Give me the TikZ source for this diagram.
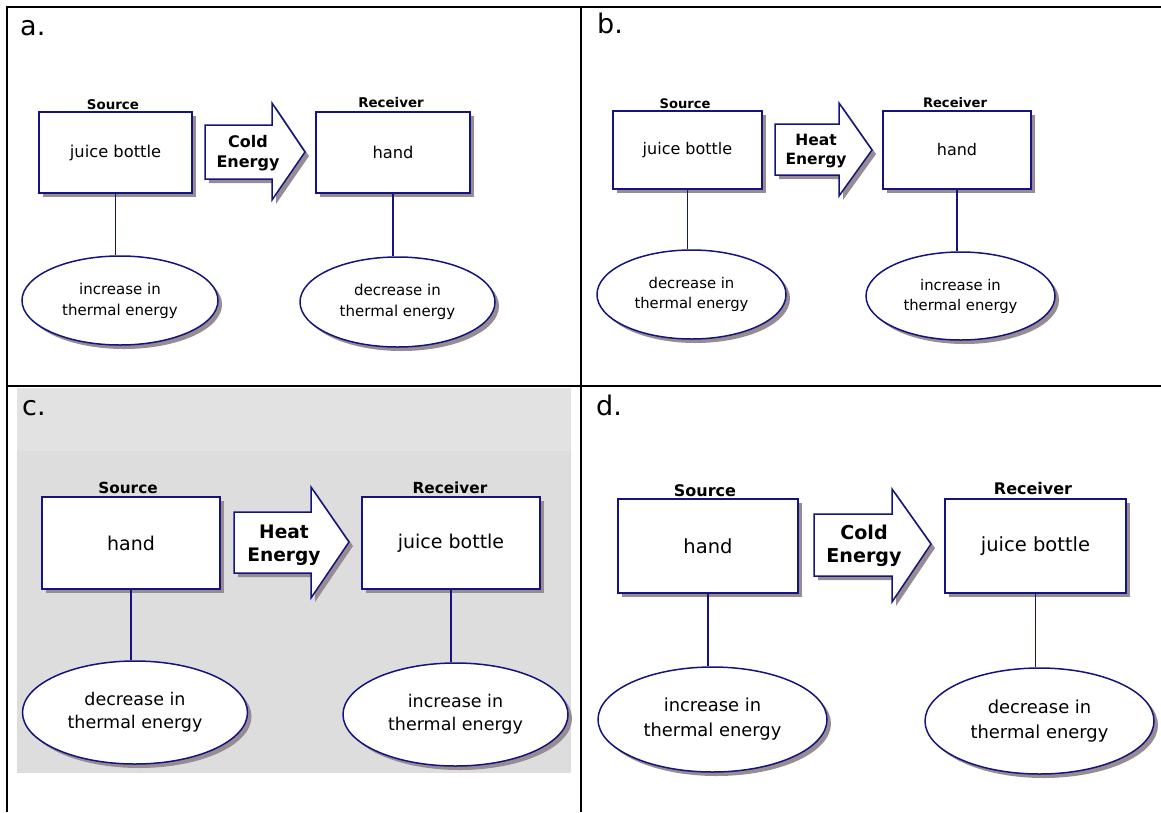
\documentclass[tikz,border=0pt]{standalone}
\usepackage{fontspec}
\setmainfont{DejaVu Sans}
\usetikzlibrary{shapes.geometric,shadows}
\definecolor{navy}{RGB}{20,20,128}
\definecolor{shadowc}{RGB}{150,140,146}
\definecolor{bgc}{RGB}{221,221,221}
\definecolor{bgtop}{RGB}{226,226,226}
\newcommand\pfs[2]{\fontsize{#1}{#2}\selectfont}
\tikzset{
  tbl/.style={draw=black, line width=2.4pt},
  shad/.style={drop shadow={shadow xshift=4pt, shadow yshift=-4pt, fill=shadowc, opacity=1}},
  box/.style={rectangle, draw=navy, fill=white, line width=1.5pt, inner sep=0pt, shad},
  oval/.style={ellipse, draw=navy, fill=white, line width=1.5pt, inner sep=0pt, align=center, shad},
  conn/.style={draw=navy, line width=1.4pt},
  bigarrow/.style={draw=navy, fill=white, line width=1.5pt, line join=miter, shad},
  arrtxt/.style={align=center, inner sep=0pt},
  lbl/.style={anchor=base, inner sep=0pt},
  panel/.style={anchor=base west, inner sep=0pt, font=\pfs{27}{30}}
}
\begin{document}
\begin{tikzpicture}[x=1pt,y=-1pt]
\useasboundingbox (0,0) rectangle (1161,812);
\fill[white] (0,0) rectangle (1161,812);
% panel c background
\fill[bgc] (17,388) rectangle (571,773);
\fill[bgtop] (17,388) rectangle (571,451);
% table lines
\draw[tbl] (6,7) -- (1161,7);
\draw[tbl] (7,6) -- (7,812);
\draw[tbl] (6,386) -- (1161,386);
\draw[tbl] (581,6) -- (581,812);

% ---------------- panel a ----------------
\node[panel] (pa) at (20,35) {a.};
\node[box, minimum width=153pt, minimum height=81pt, font=\pfs{16.3}{20}] (srcA) at (115.5,152.5) {juice bottle};
\node[lbl, font=\bfseries\pfs{13.4}{16}] (lsA) at (113,109) {Source};
\node[box, minimum width=154pt, minimum height=81pt, font=\pfs{16.3}{20}] (rcvA) at (393,152.5) {hand};
\node[lbl, font=\bfseries\pfs{13.4}{16}] (lrA) at (391,107) {Receiver};
\filldraw[bigarrow] (205,125) -- (272,125) -- (272,103) -- (305,152) -- (272,200) -- (272,179) -- (205,179) -- cycle;
\node[arrtxt, font=\bfseries\pfs{16}{20}] (tA) at (248,153) {Cold\\Energy};
\node[oval, minimum width=196pt, minimum height=89pt, font=\pfs{15}{21}] (ovA1) at (120,300.5) {increase in\\thermal energy};
\node[oval, minimum width=195pt, minimum height=90pt, font=\pfs{15}{21}] (ovA2) at (397.5,302) {decrease in\\thermal energy};
\draw[conn] (srcA.south) -- (srcA.south |- ovA1.north);
\draw[conn] (rcvA.south) -- (rcvA.south |- ovA2.north);

% ---------------- panel b ----------------
\node[panel] (pb) at (597,33) {b.};
\node[box, minimum width=149pt, minimum height=78pt, font=\pfs{16}{20}] (srcB) at (687.5,150) {juice bottle};
\node[lbl, font=\bfseries\pfs{13.1}{16}] (lsB) at (685,108) {Source};
\node[box, minimum width=148pt, minimum height=78pt, font=\pfs{16}{20}] (rcvB) at (957,150) {hand};
\node[lbl, font=\bfseries\pfs{13.1}{16}] (lrB) at (955,107) {Receiver};
\filldraw[bigarrow] (775,124) -- (839,124) -- (839,103) -- (872,150) -- (839,196) -- (839,175) -- (775,175) -- cycle;
\node[arrtxt, font=\bfseries\pfs{15.5}{19.5}] (tB) at (816,151) {Heat\\Energy};
\node[oval, minimum width=189pt, minimum height=89pt, font=\pfs{14.8}{20}] (ovB1) at (691.5,294.5) {decrease in\\thermal energy};
\node[oval, minimum width=189pt, minimum height=88pt, font=\pfs{14.8}{20}] (ovB2) at (960.5,296) {increase in\\thermal energy};
\draw[conn] (srcB.south) -- (srcB.south |- ovB1.north);
\draw[conn] (rcvB.south) -- (rcvB.south |- ovB2.north);

% ---------------- panel c ----------------
\node[panel] (pc) at (22,415) {c.};
\node[box, minimum width=178pt, minimum height=92pt, font=\pfs{19}{23}] (srcC) at (131,543) {hand};
\node[lbl, font=\bfseries\pfs{15.3}{18}] (lsC) at (128,493) {Source};
\node[box, minimum width=178pt, minimum height=92pt, font=\pfs{19}{23}] (rcvC) at (451,543) {juice bottle};
\node[lbl, font=\bfseries\pfs{15.3}{18}] (lrC) at (450,493) {Receiver};
\filldraw[bigarrow] (234,512) -- (311,512) -- (311,487) -- (349,542) -- (311,598) -- (311,573) -- (234,573) -- cycle;
\node[arrtxt, font=\bfseries\pfs{18.6}{23}] (tC) at (284,545) {Heat\\Energy};
\node[oval, minimum width=225pt, minimum height=103pt, font=\pfs{17.5}{23}] (ovC1) at (135,712.5) {decrease in\\thermal energy};
\node[oval, minimum width=225pt, minimum height=103pt, font=\pfs{17.5}{23}] (ovC2) at (455.5,714.5) {increase in\\thermal energy};
\draw[conn] (srcC.south) -- (srcC.south |- ovC1.north);
\draw[conn] (rcvC.south) -- (rcvC.south |- ovC2.north);

% ---------------- panel d ----------------
\node[panel] (pd) at (596,415) {d.};
\node[box, minimum width=180pt, minimum height=94pt, font=\pfs{19.5}{23}] (srcD) at (708,546) {hand};
\node[lbl, font=\bfseries\pfs{16}{19}] (lsD) at (705,496) {Source};
\node[box, minimum width=181pt, minimum height=94pt, font=\pfs{19.5}{23}] (rcvD) at (1035.5,546) {juice bottle};
\node[lbl, font=\bfseries\pfs{16}{19}] (lrD) at (1033,494) {Receiver};
\filldraw[bigarrow] (814,514) -- (892,514) -- (892,489) -- (931,544) -- (892,602) -- (892,576) -- (814,576) -- cycle;
\node[arrtxt, font=\bfseries\pfs{19.1}{23.5}] (tD) at (864,546) {Cold\\Energy};
\node[oval, minimum width=229pt, minimum height=105pt, font=\pfs{17.9}{25}] (ovD1) at (712.5,719.5) {increase in\\thermal energy};
\node[oval, minimum width=229pt, minimum height=106pt, font=\pfs{17.9}{25}] (ovD2) at (1039.5,721) {decrease in\\thermal energy};
\draw[conn] (srcD.south) -- (srcD.south |- ovD1.north);
\draw[conn] (rcvD.south) -- (rcvD.south |- ovD2.north);
\end{tikzpicture}
\end{document}
